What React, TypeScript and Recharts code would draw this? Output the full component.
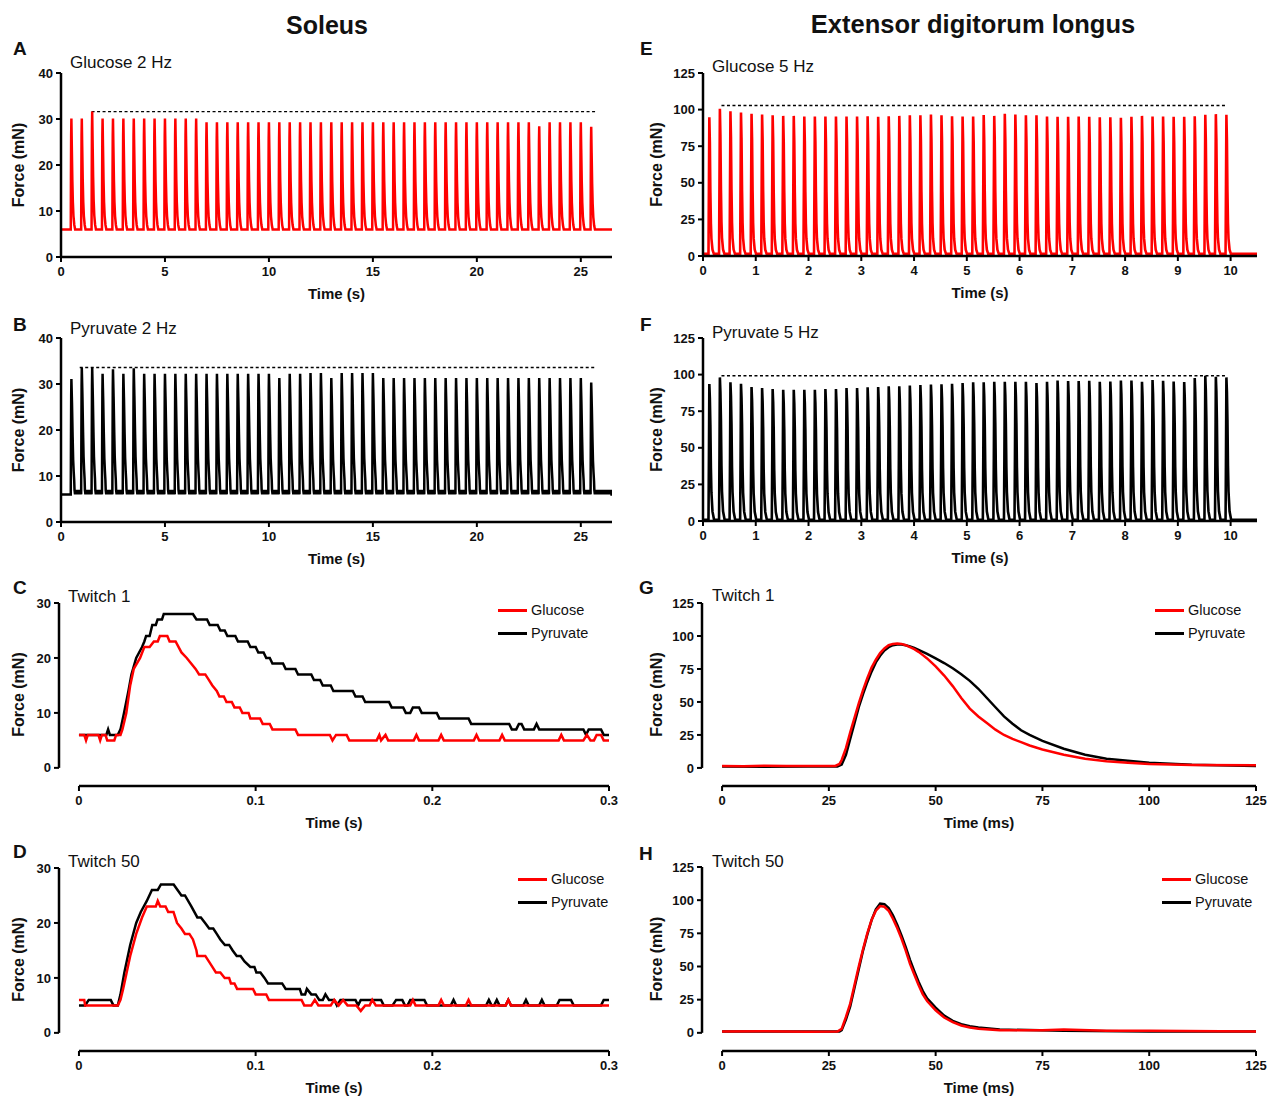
import React from 'react';
import { LineChart, Line, XAxis, YAxis, ReferenceLine, Legend } from 'recharts';

const FONT = '"Liberation Sans", Arial, Helvetica, sans-serif';
const RED = '#ff0000';
const BLACK = '#000000';

// ---------- stimulation trains (A, B, E, F): peak force of every twitch, mN ----------
const soleusGlucosePeaks = [
  30.1, 30.1, 31.6, 30.1, 30.1, 30.1, 30.1, 30.1, 30.1, 30.1, 30.1, 30.1, 30.1,
  29.3, 29.3, 29.3, 29.3, 29.3, 29.3, 29.3, 29.3, 29.3, 29.3, 29.3, 29.3, 29.3, 29.3, 29.3, 29.3,
  29.3, 29.3, 29.3, 29.3, 29.3, 29.3, 29.3, 29.3, 29.3, 29.3, 29.3, 29.3, 29.3, 29.3, 29.3, 29.3,
  28.4, 29.3, 29.3, 29.3, 29.3, 28.3,
];
const soleusPyruvatePeaks = [
  31.1, 33.6, 33.6, 32.2, 33.2, 32.2, 33.4, 32.2, 32.2, 32.2, 32.2, 32.2, 32.2, 32.2, 32.2, 32.2,
  32.2, 32.2, 32.2, 32.2, 31.3, 32.2, 32.2, 32.4, 32.4, 31.3, 32.4, 32.4, 32.4, 32.4,
  31.3, 31.3, 31.3, 31.3, 31.3, 31.3, 31.3, 31.3, 31.3, 31.3, 31.3, 31.3, 31.3, 31.3, 31.3, 31.3,
  31.3, 31.3, 31.3, 31.3, 30.3,
];
const edlGlucosePeaks = [
  94.8, 100.5, 98.9, 98.0, 97.1, 96.6, 96.2, 95.7, 95.7, 95.3, 95.3, 95.3, 95.3, 95.3, 95.3, 95.5,
  95.1, 95.5, 95.7, 96.2, 96.2, 96.6, 96.2, 95.4, 95.3, 95.3, 96.3, 95.7, 97.1, 96.6, 96.2, 96.2,
  95.3, 95.1, 95.1, 95.3, 95.1, 94.8, 94.8, 94.4, 95.1, 95.7, 95.3, 95.3, 95.1, 95.1, 95.5, 96.4,
  96.9, 96.4,
];
const edlPyruvatePeaks = [
  93.5, 98.1, 94.7, 93.8, 91.5, 90.8, 90.1, 89.6, 89.6, 89.6, 89.6, 90.1, 90.1, 90.8, 90.8, 91.3,
  91.5, 92.0, 92.0, 92.5, 92.9, 93.2, 93.4, 93.8, 94.2, 94.7, 94.7, 95.1, 95.1, 95.1, 95.1, 94.2,
  95.1, 96.0, 95.6, 95.6, 95.8, 95.1, 95.3, 96.0, 96.0, 95.1, 96.3, 95.8, 95.3, 94.9, 97.6, 99.2,
  98.5, 98.1,
];

// twitch shapes inside a train: [time from peak (s), fraction of peak above baseline]
const soleusGlucoseShape = [
  [-0.03, 0], [-0.022, 0.45], [-0.012, 0.85], [0, 1], [0.02, 0.75], [0.045, 0.45],
  [0.07, 0.25], [0.1, 0.12], [0.14, 0.04], [0.18, 0],
];
const soleusPyruvateShape = [
  [-0.03, 0], [-0.02, 0.45], [-0.01, 0.85], [0, 1], [0.03, 0.78], [0.06, 0.5],
  [0.085, 0.3], [0.11, 0.2], [0.135, 0.12],
];
// baseline ripple between pyruvate twitches: [time from peak (s), mN]
const soleusPyruvateRipple = [
  [0.15, 7], [0.175, 6], [0.2, 7], [0.225, 6], [0.25, 7], [0.275, 6], [0.3, 7],
  [0.325, 6], [0.35, 7], [0.375, 6], [0.4, 7], [0.425, 6], [0.45, 7],
];
const edlGlucoseShape = [
  [-0.016, 0], [-0.008, 0.5], [0, 1], [0.01, 0.82], [0.02, 0.45], [0.03, 0.22],
  [0.04, 0.11], [0.06, 0.03], [0.085, 0],
];
const edlPyruvateShape = [
  [-0.016, 0], [-0.008, 0.45], [0, 1], [0.01, 0.9], [0.02, 0.7], [0.03, 0.38],
  [0.04, 0.2], [0.06, 0.06], [0.09, 0],
];

// ---------- single twitches (C, D in s; G, H in ms) ----------
const soleusT1Glucose = [
  [0, 6], [0.003, 6], [0.004, 5], [0.005, 6], [0.011, 6], [0.012, 5], [0.013, 6], [0.015, 6],
  [0.016, 5], [0.02, 5], [0.021, 6], [0.0235, 6], [0.0246, 7], [0.0268, 10], [0.029, 15],
  [0.031, 18], [0.0346, 20], [0.037, 22], [0.04, 22], [0.0424, 23], [0.0446, 23], [0.0458, 24],
  [0.05, 24], [0.0513, 23], [0.0547, 23], [0.058, 21], [0.061, 20], [0.0635, 19], [0.066, 18],
  [0.068, 17], [0.0715, 17], [0.0735, 16], [0.0755, 15], [0.078, 14], [0.0795, 13], [0.082, 13],
  [0.0835, 12], [0.0865, 12], [0.088, 11], [0.091, 11], [0.0925, 10], [0.096, 10], [0.097, 9],
  [0.1025, 9], [0.104, 8], [0.108, 8], [0.1095, 7], [0.1225, 7], [0.124, 6], [0.142, 6],
  [0.1435, 5], [0.1455, 6], [0.1515, 6], [0.153, 5], [0.1685, 5], [0.17, 6], [0.171, 5],
  [0.1735, 6], [0.175, 5], [0.1895, 5], [0.191, 6], [0.1925, 5], [0.2035, 5], [0.205, 6],
  [0.2065, 5], [0.2235, 5], [0.225, 6], [0.2265, 5], [0.238, 5], [0.2395, 6], [0.241, 5],
  [0.2715, 5], [0.273, 6], [0.2745, 5], [0.2855, 5], [0.2875, 6], [0.2895, 5], [0.2915, 5],
  [0.293, 6], [0.2955, 6], [0.297, 5], [0.3, 5],
];
const soleusT1Pyruvate = [
  [0, 6], [0.0155, 6], [0.0165, 7], [0.0175, 6], [0.022, 6], [0.0235, 7], [0.0255, 10],
  [0.028, 14], [0.0297, 17], [0.0324, 20], [0.0357, 22], [0.037, 23], [0.038, 24], [0.04, 24],
  [0.0415, 26], [0.0435, 26], [0.0445, 27], [0.047, 27], [0.048, 28], [0.0645, 28], [0.0665, 27],
  [0.0725, 27], [0.074, 26], [0.0785, 26], [0.08, 25], [0.0825, 25], [0.084, 24], [0.0885, 24],
  [0.09, 23], [0.0955, 23], [0.097, 22], [0.1, 22], [0.1015, 21], [0.1045, 21], [0.106, 20],
  [0.108, 20], [0.1095, 19], [0.1155, 19], [0.117, 18], [0.1225, 18], [0.124, 17], [0.1315, 17],
  [0.133, 16], [0.1365, 16], [0.138, 15], [0.1425, 15], [0.144, 14], [0.155, 14], [0.1565, 13],
  [0.1605, 13], [0.162, 12], [0.1755, 12], [0.177, 11], [0.1835, 11], [0.185, 10], [0.1875, 10],
  [0.189, 11], [0.1925, 11], [0.194, 10], [0.2025, 10], [0.204, 9], [0.2205, 9], [0.222, 8],
  [0.2435, 8], [0.245, 7], [0.2475, 7], [0.249, 8], [0.2505, 8], [0.252, 7], [0.2575, 7],
  [0.259, 8], [0.2605, 7], [0.2855, 7], [0.287, 6], [0.2885, 7], [0.2955, 7], [0.297, 6], [0.3, 6],
];
const soleusT50Glucose = [
  [0, 6], [0.003, 6], [0.0035, 5], [0.022, 5], [0.0235, 6], [0.025, 8], [0.027, 11], [0.029, 14],
  [0.0324, 18], [0.0357, 21], [0.0384, 23], [0.0435, 23], [0.0446, 24], [0.046, 23], [0.049, 23],
  [0.0505, 22], [0.0535, 22], [0.0555, 20], [0.058, 19], [0.06, 18], [0.0625, 18], [0.0645, 17],
  [0.0665, 15], [0.067, 14], [0.0715, 14], [0.0735, 13], [0.0755, 12], [0.0775, 11], [0.08, 11],
  [0.0825, 10], [0.085, 10], [0.086, 9], [0.088, 9], [0.0895, 8], [0.0985, 8], [0.1, 7],
  [0.106, 7], [0.1075, 6], [0.126, 6], [0.1275, 5], [0.1315, 5], [0.1335, 6], [0.1355, 5],
  [0.1425, 5], [0.1445, 6], [0.147, 5], [0.1495, 6], [0.152, 5], [0.157, 5], [0.1595, 4],
  [0.162, 5], [0.1645, 5], [0.166, 6], [0.168, 5], [0.1875, 5], [0.189, 6], [0.1905, 5],
  [0.2035, 5], [0.205, 6], [0.2065, 5], [0.219, 5], [0.2205, 6], [0.222, 5], [0.2415, 5],
  [0.243, 6], [0.2445, 5], [0.3, 5],
];
const soleusT50Pyruvate = [
  [0, 5], [0.0035, 5], [0.0055, 6], [0.018, 6], [0.0195, 5], [0.022, 5], [0.0235, 7], [0.0257, 11],
  [0.029, 16], [0.0324, 20], [0.035, 22], [0.0384, 24], [0.0413, 26], [0.0446, 26], [0.0464, 27],
  [0.0536, 27], [0.0558, 26], [0.058, 25], [0.06, 25], [0.0636, 23], [0.067, 21], [0.069, 21],
  [0.0714, 20], [0.0737, 19], [0.076, 19], [0.078, 18], [0.08, 17], [0.0826, 16], [0.085, 16],
  [0.087, 15], [0.0893, 14], [0.0915, 14], [0.0937, 13], [0.097, 12], [0.0993, 12], [0.1004, 11],
  [0.1027, 11], [0.105, 10], [0.107, 9], [0.115, 9], [0.117, 8], [0.125, 8], [0.126, 7],
  [0.128, 7], [0.129, 8], [0.1315, 7], [0.134, 7], [0.136, 6], [0.138, 6], [0.1395, 7],
  [0.1415, 6], [0.1445, 6], [0.146, 5], [0.148, 6], [0.1565, 6], [0.158, 5], [0.1595, 6],
  [0.171, 6], [0.1725, 5], [0.1775, 5], [0.1795, 6], [0.183, 6], [0.1845, 5], [0.186, 5],
  [0.1875, 6], [0.1955, 6], [0.197, 5], [0.2105, 5], [0.212, 6], [0.2135, 5], [0.2305, 5],
  [0.232, 6], [0.2335, 5], [0.235, 5], [0.2365, 6], [0.238, 5], [0.2415, 5], [0.243, 6],
  [0.2445, 5], [0.2515, 5], [0.253, 6], [0.2545, 5], [0.2605, 5], [0.262, 6], [0.2635, 5],
  [0.2705, 5], [0.272, 6], [0.2785, 6], [0.28, 5], [0.2955, 5], [0.297, 6], [0.3, 6],
];
const edlT1Glucose = [
  [0, 1.5], [5, 1.3], [10, 1.6], [15, 1.4], [20, 1.5], [26.5, 1.5], [27.5, 3], [28, 6], [29, 15],
  [30, 27], [31, 38], [32, 49], [33, 59], [34, 68], [35, 76], [36, 82], [37, 87], [38, 90.5],
  [39, 93], [40, 94], [41, 94.3], [42, 94], [43, 93], [44, 91.5], [45, 90], [46, 88], [47, 85.5],
  [48, 83], [50, 77], [52, 70], [54, 62], [56, 53], [58, 45], [60, 39], [62, 34], [64, 29],
  [66, 25], [68, 22], [70, 19.5], [72, 17], [75, 14], [80, 10], [85, 7], [90, 5], [95, 4],
  [100, 3], [110, 2.3], [125, 2],
];
const edlT1Pyruvate = [
  [0, 1], [10, 0.8], [20, 1], [27, 1], [28, 2.5], [29, 10], [30, 22], [31, 34], [32, 46], [33, 56],
  [34, 65], [35, 73], [36, 80], [37, 85], [38, 89], [39, 91.5], [40, 93], [41, 93.5], [42, 93.5],
  [43, 93], [44, 92], [45, 91], [46, 89.5], [48, 86.5], [50, 83], [52, 79.5], [54, 75.5],
  [56, 71], [58, 66], [60, 60], [62, 53], [64, 46], [66, 39], [68, 33.5], [70, 28.5], [72, 25],
  [75, 20.5], [80, 14.5], [85, 10], [90, 7], [95, 5.5], [100, 4], [110, 2.5], [125, 1.5],
];
const edlT50Glucose = [
  [0, 1], [10, 1.2], [20, 0.9], [27, 1], [28, 3], [29, 12], [30, 22], [31, 36], [32, 50], [33, 63],
  [34, 75], [35, 85], [36, 92], [37, 95.5], [38, 95], [39, 92], [40, 86], [41, 79], [42, 71],
  [43, 62], [44, 52], [45, 44], [46, 36], [47, 29], [48, 24], [50, 17], [52, 11.5], [54, 8],
  [56, 5.5], [58, 4], [60, 3], [65, 2], [75, 2], [80, 2.5], [90, 1.5], [100, 1.5], [125, 1],
];
const edlT50Pyruvate = [
  [0, 1], [27.5, 1], [28, 2], [29, 10], [30, 20], [31, 34], [32, 48], [33, 62], [34, 74], [35, 85],
  [36, 93], [37, 97.5], [38, 97], [39, 94], [40, 88.5], [41, 81.5], [42, 73.5], [43, 64.5],
  [44, 55], [45, 46.5], [46, 38.5], [47, 31.5], [48, 26], [50, 19], [52, 13], [54, 9], [56, 6.5],
  [58, 5], [60, 4], [65, 2.5], [80, 1.5], [100, 1], [125, 1],
];

type Pt = { t: number; v: number };
const toPts = (arr: number[][]): Pt[] => arr.map(([t, v]) => ({ t, v }));

function buildTrain(
  peaks: number[],
  first: number,
  interval: number,
  shape: number[][],
  base: number,
  end: number,
  ripple?: number[][],
): Pt[] {
  let pts: Pt[] = [{ t: 0, v: base }];
  peaks.forEach((peak, k) => {
    const tp = first + k * interval;
    shape.forEach(([dt, f]) => pts.push({ t: tp + dt, v: base + f * (peak - base) }));
    if (ripple) ripple.forEach(([dt, v]) => pts.push({ t: tp + dt, v }));
  });
  if (ripple) {
    const last = first + (peaks.length - 1) * interval;
    for (let tp = last + 0.3; tp < end; tp += 0.3) {
      ripple.forEach(([dt, v]) => pts.push({ t: tp + dt, v }));
    }
  }
  pts = pts.filter((p) => p.t < end);
  pts.push({ t: end, v: base });
  return pts;
}

const trainA = buildTrain(soleusGlucosePeaks, 0.5, 0.5, soleusGlucoseShape, 6, 26.5);
const trainB = buildTrain(soleusPyruvatePeaks, 0.5, 0.5, soleusPyruvateShape, 6, 26.5, soleusPyruvateRipple);
const trainE = buildTrain(edlGlucosePeaks, 0.12, 0.2, edlGlucoseShape, 1.5, 10.5);
const trainF = buildTrain(edlPyruvatePeaks, 0.12, 0.2, edlPyruvateShape, 0.8, 10.5);

// ---------- layout ----------
const YW = 60;
const MT = 12;
const MR = 14;
const XH = 52;

const tickStyle = { fontSize: 13, fontWeight: 700, fill: '#111', fontFamily: FONT };
const xLabelStyle = { fontSize: 15, fontWeight: 700, fill: '#111', fontFamily: FONT };
const yLabelStyle = { fontSize: 16, fontWeight: 700, fill: '#111', fontFamily: FONT, textAnchor: 'middle' };

const TwitchLegend = (props: any) => {
  const items = [...(props.payload || [])].sort((a: any, b: any) =>
    String(a.value).localeCompare(String(b.value)),
  );
  return (
    <div style={{ fontFamily: FONT }}>
      {items.map((it: any) => (
        <div key={it.value} style={{ display: 'flex', alignItems: 'center', height: 23 }}>
          <span
            style={{ display: 'inline-block', width: 29, height: 3, background: it.color, marginRight: 4 }}
          />
          <span style={{ fontSize: 14.5, color: '#111' }}>{it.value}</span>
        </div>
      ))}
    </div>
  );
};

interface PanelProps {
  plot: { x: number; y: number; w: number; h: number };
  xDomain: [number, number];
  yDomain: [number, number];
  xTicks: number[];
  yTicks: number[];
  xLabel: string;
  yLabelX: number;
  detached?: boolean;
  dashed?: { x1: number; x2: number; y: number };
  legend?: { x: number; y: number };
  children: React.ReactNode;
}

const Panel: React.FC<PanelProps> = ({
  plot,
  xDomain,
  yDomain,
  xTicks,
  yTicks,
  xLabel,
  yLabelX,
  detached,
  dashed,
  legend,
  children,
}) => {
  const left = plot.x - YW;
  const top = plot.y - MT;
  const axisLine = detached ? false : { stroke: BLACK, strokeWidth: 2.5 };
  const tickLine = { stroke: BLACK, strokeWidth: 2 };
  return (
    <div style={{ position: 'absolute', left, top }}>
      <LineChart
        width={plot.w + YW + MR}
        height={plot.h + MT + XH}
        margin={{ top: MT, right: MR, left: 0, bottom: 0 }}
      >
        <XAxis
          type="number"
          dataKey="t"
          domain={xDomain}
          ticks={xTicks}
          interval={0}
          allowDataOverflow
          height={XH}
          axisLine={axisLine}
          tickLine={tickLine}
          tickSize={5}
          tickMargin={5}
          tick={tickStyle}
          label={{ value: xLabel, position: 'insideBottom', offset: 10, style: xLabelStyle }}
        />
        <YAxis
          type="number"
          dataKey="v"
          domain={yDomain}
          ticks={yTicks}
          interval={0}
          allowDataOverflow
          width={YW}
          axisLine={axisLine}
          tickLine={tickLine}
          tickSize={5}
          tickMargin={3}
          tick={tickStyle}
          label={{
            value: 'Force (mN)',
            angle: -90,
            position: 'insideLeft',
            offset: yLabelX - left,
            style: yLabelStyle,
          }}
        />
        {detached && (
          <ReferenceLine
            segment={[{ x: xDomain[0], y: 0 }, { x: xDomain[0], y: yDomain[1] }]}
            stroke={BLACK}
            strokeWidth={2.5}
            ifOverflow="visible"
          />
        )}
        {detached && (
          <ReferenceLine
            segment={[{ x: 0, y: yDomain[0] }, { x: xDomain[1], y: yDomain[0] }]}
            stroke={BLACK}
            strokeWidth={2.5}
            ifOverflow="visible"
          />
        )}
        {dashed && (
          <ReferenceLine
            segment={[{ x: dashed.x1, y: dashed.y }, { x: dashed.x2, y: dashed.y }]}
            stroke={BLACK}
            strokeWidth={1.4}
            strokeDasharray="3 2.5"
          />
        )}
        {legend && (
          <Legend
            layout="vertical"
            align="center"
            verticalAlign="middle"
            wrapperStyle={{ left: legend.x - left, top: legend.y - 11.5 - top, width: 'auto', height: 'auto' }}
            content={TwitchLegend}
          />
        )}
        {children}
      </LineChart>
    </div>
  );
};

const Txt: React.FC<{ x: number; y: number; size: number; bold?: boolean; center?: boolean; children: React.ReactNode }> = ({
  x,
  y,
  size,
  bold,
  center,
  children,
}) => (
  <div
    style={{
      position: 'absolute',
      left: center ? x - 300 : x,
      width: center ? 600 : undefined,
      textAlign: center ? 'center' : 'left',
      top: y - size / 2,
      fontSize: size,
      lineHeight: `${size}px`,
      fontWeight: bold ? 700 : 400,
      whiteSpace: 'nowrap',
      color: '#111',
    }}
  >
    {children}
  </div>
);

const soleusX = [0, 5, 10, 15, 20, 25];
const edlX = [0, 1, 2, 3, 4, 5, 6, 7, 8, 9, 10];
const soleusY = [0, 10, 20, 30, 40];
const edlY = [0, 25, 50, 75, 100, 125];
const twitchSX = [0, 0.1, 0.2, 0.3];
const twitchSY = [0, 10, 20, 30];
const twitchMsX = [0, 25, 50, 75, 100, 125];

export default function App() {
  const line = (data: Pt[], color: string, name?: string, w = 2.5) => (
    <Line
      data={data}
      dataKey="v"
      name={name}
      type="linear"
      stroke={color}
      strokeWidth={w}
      dot={false}
      activeDot={false}
      isAnimationActive={false}
      legendType={name ? 'line' : 'none'}
    />
  );

  return (
    <div
      style={{
        position: 'absolute',
        left: 0,
        top: 0,
        width: 1270,
        height: 1098,
        background: '#fff',
        fontFamily: FONT,
        overflow: 'hidden',
      }}
    >
      <Txt x={327} y={25} size={25} bold center>Soleus</Txt>
      <Txt x={973} y={25} size={25.5} bold center>Extensor digitorum longus</Txt>

      <Txt x={13} y={48} size={19} bold>A</Txt>
      <Txt x={13} y={324} size={19} bold>B</Txt>
      <Txt x={13} y={587} size={19} bold>C</Txt>
      <Txt x={13} y={851} size={19} bold>D</Txt>
      <Txt x={640} y={48} size={19} bold>E</Txt>
      <Txt x={640} y={324} size={19} bold>F</Txt>
      <Txt x={639} y={587} size={19} bold>G</Txt>
      <Txt x={639} y={853} size={19} bold>H</Txt>

      <Panel
        plot={{ x: 61, y: 73, w: 551, h: 184 }}
        xDomain={[0, 26.5]}
        yDomain={[0, 40]}
        xTicks={soleusX}
        yTicks={soleusY}
        xLabel="Time (s)"
        yLabelX={18}
        dashed={{ x1: 1.47, x2: 25.7, y: 31.6 }}
      >
        {line(trainA, RED, undefined, 2.5)}
      </Panel>
      <Panel
        plot={{ x: 61, y: 338, w: 551, h: 184 }}
        xDomain={[0, 26.5]}
        yDomain={[0, 40]}
        xTicks={soleusX}
        yTicks={soleusY}
        xLabel="Time (s)"
        yLabelX={18}
        dashed={{ x1: 0.9, x2: 25.7, y: 33.6 }}
      >
        {line(trainB, BLACK, undefined, 2.5)}
      </Panel>
      <Panel
        plot={{ x: 703, y: 73, w: 554, h: 183 }}
        xDomain={[0, 10.5]}
        yDomain={[0, 125]}
        xTicks={edlX}
        yTicks={edlY}
        xLabel="Time (s)"
        yLabelX={656}
        dashed={{ x1: 0.35, x2: 9.92, y: 102.8 }}
      >
        {line(trainE, RED, undefined, 2.6)}
      </Panel>
      <Panel
        plot={{ x: 703, y: 338, w: 554, h: 183 }}
        xDomain={[0, 10.5]}
        yDomain={[0, 125]}
        xTicks={edlX}
        yTicks={edlY}
        xLabel="Time (s)"
        yLabelX={656}
        dashed={{ x1: 0.35, x2: 9.92, y: 99.2 }}
      >
        {line(trainF, BLACK, undefined, 2.6)}
      </Panel>

      <Panel
        plot={{ x: 59, y: 603, w: 550, h: 183 }}
        xDomain={[-0.0113, 0.3]}
        yDomain={[-3.3, 30]}
        xTicks={twitchSX}
        yTicks={twitchSY}
        xLabel="Time (s)"
        yLabelX={18}
        detached
        legend={{ x: 498, y: 610 }}
      >
        {line(toPts(soleusT1Pyruvate), BLACK, 'Pyruvate')}
        {line(toPts(soleusT1Glucose), RED, 'Glucose')}
      </Panel>
      <Panel
        plot={{ x: 59, y: 868, w: 550, h: 183 }}
        xDomain={[-0.0113, 0.3]}
        yDomain={[-3.3, 30]}
        xTicks={twitchSX}
        yTicks={twitchSY}
        xLabel="Time (s)"
        yLabelX={18}
        detached
        legend={{ x: 518, y: 879 }}
      >
        {line(toPts(soleusT50Pyruvate), BLACK, 'Pyruvate')}
        {line(toPts(soleusT50Glucose), RED, 'Glucose')}
      </Panel>
      <Panel
        plot={{ x: 702, y: 603, w: 554, h: 183 }}
        xDomain={[-4.7, 125]}
        yDomain={[-13.7, 125]}
        xTicks={twitchMsX}
        yTicks={edlY}
        xLabel="Time (ms)"
        yLabelX={656}
        detached
        legend={{ x: 1155, y: 610 }}
      >
        {line(toPts(edlT1Pyruvate), BLACK, 'Pyruvate')}
        {line(toPts(edlT1Glucose), RED, 'Glucose')}
      </Panel>
      <Panel
        plot={{ x: 702, y: 867, w: 554, h: 184 }}
        xDomain={[-4.7, 125]}
        yDomain={[-13.7, 125]}
        xTicks={twitchMsX}
        yTicks={edlY}
        xLabel="Time (ms)"
        yLabelX={656}
        detached
        legend={{ x: 1162, y: 879 }}
      >
        {line(toPts(edlT50Pyruvate), BLACK, 'Pyruvate')}
        {line(toPts(edlT50Glucose), RED, 'Glucose')}
      </Panel>

      <Txt x={70} y={62} size={17}>Glucose 2 Hz</Txt>
      <Txt x={70} y={328} size={17}>Pyruvate 2 Hz</Txt>
      <Txt x={68} y={596} size={17}>Twitch 1</Txt>
      <Txt x={68} y={861} size={17}>Twitch 50</Txt>
      <Txt x={712} y={66} size={17}>Glucose 5 Hz</Txt>
      <Txt x={712} y={332} size={17}>Pyruvate 5 Hz</Txt>
      <Txt x={712} y={595} size={17}>Twitch 1</Txt>
      <Txt x={712} y={861} size={17}>Twitch 50</Txt>
    </div>
  );
}
